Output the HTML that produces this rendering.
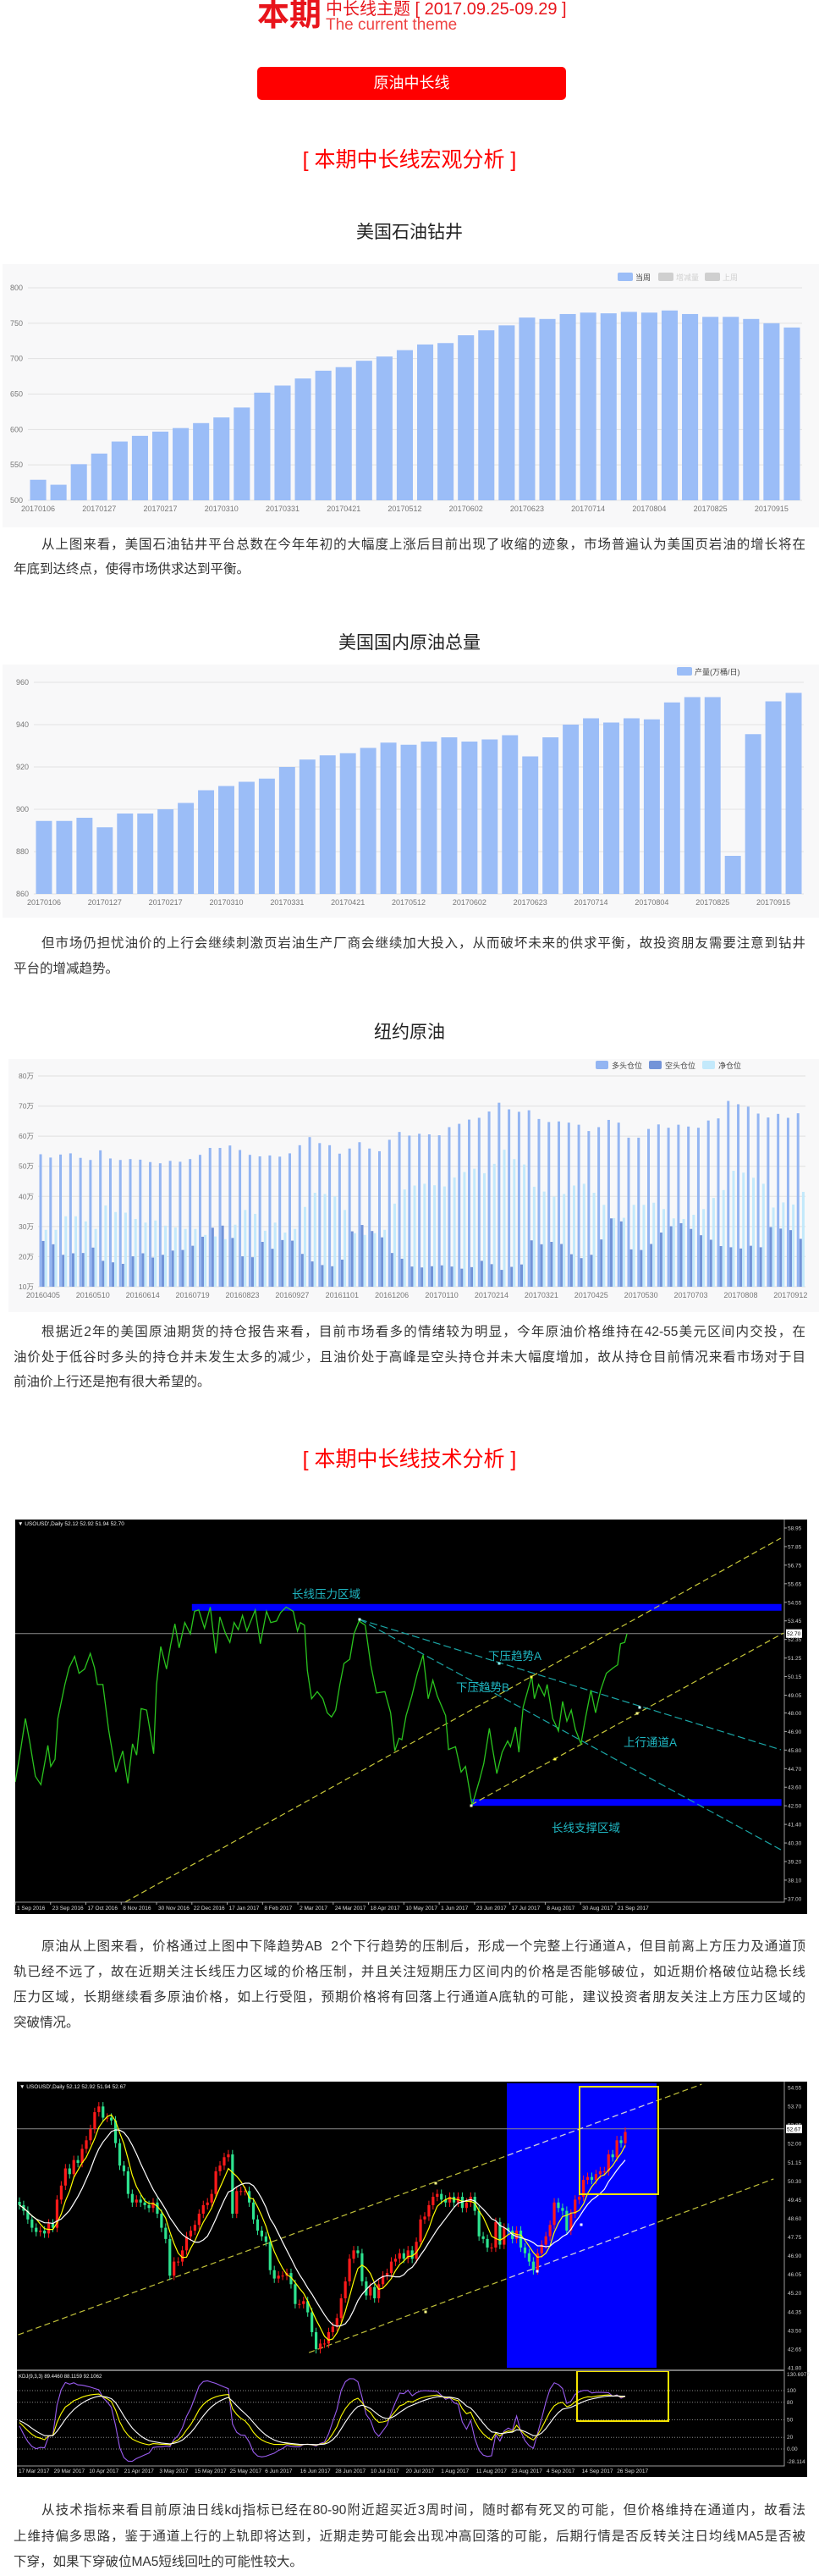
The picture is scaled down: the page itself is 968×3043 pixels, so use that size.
<!DOCTYPE html>
<html><head><meta charset="utf-8">
<style>
body{margin:0;width:968px;height:3034px;position:relative;background:#fff;font-family:"Liberation Sans","Noto Sans CJK SC",sans-serif;overflow:hidden}
#charts{position:absolute;left:0;top:0}
.h2{position:absolute;left:0;width:968px;text-align:center;color:#222;font-size:21px;line-height:24px;font-family:"Liberation Sans","Noto Sans CJK SC",sans-serif}
.sec{position:absolute;left:0;width:968px;text-align:center;color:#f00;font-size:25px;line-height:30px}
.p{position:absolute;left:16px;width:936px;font-size:15.5px;color:#333;font-family:"Liberation Sans","Noto Sans CJK SC",sans-serif}
.p div{white-space:nowrap;text-align:justify;text-align-last:justify}
.p div.first{padding-left:33px}
.p div.last{text-align-last:left}
</style></head>
<body>
<svg id="charts" width="968" height="3034" viewBox="0 0 968 3034"></svg>

<div style="position:absolute;left:304px;top:-2px;font-size:38px;line-height:40px;font-weight:bold;color:#e8141b">本期</div>
<div style="position:absolute;left:385px;top:1px;font-size:20px;line-height:20px;color:#e8141b;white-space:nowrap">中长线主题 [ 2017.09.25-09.29 ]</div>
<div style="position:absolute;left:385px;top:20px;font-size:19px;line-height:20px;color:#ee4444;white-space:nowrap">The current theme</div>
<div style="position:absolute;left:304px;top:79px;width:365px;height:39px;background:#ff0000;border-radius:5px;color:#fff;font-size:18px;line-height:39px;text-align:center">原油中长线</div>

<div class="sec" style="top:174px">[ 本期中长线宏观分析 ]</div>
<div class="h2" style="top:263px">美国石油钻井</div>

<div class="p" style="top:629px;line-height:29px">
<div class="first">从上图来看，美国石油钻井平台总数在今年年初的大幅度上涨后目前出现了收缩的迹象，市场普遍认为美国页岩油的增长将在</div>
<div class="last">年底到达终点，使得市场供求达到平衡。</div>
</div>

<div class="h2" style="top:748px">美国国内原油总量</div>

<div class="p" style="top:1100px;line-height:30px">
<div class="first">但市场仍担忧油价的上行会继续刺激页岩油生产厂商会继续加大投入，从而破坏未来的供求平衡，故投资朋友需要注意到钻井</div>
<div class="last">平台的增减趋势。</div>
</div>

<div class="h2" style="top:1208px">纽约原油</div>

<div class="p" style="top:1559px;line-height:29.5px">
<div class="first">根据近2年的美国原油期货的持仓报告来看，目前市场看多的情绪较为明显，今年原油价格维持在42-55美元区间内交投，在</div>
<div>油价处于低谷时多头的持仓并未发生太多的减少，且油价处于高峰是空头持仓并未大幅度增加，故从持仓目前情况来看市场对于目</div>
<div class="last">前油价上行还是抱有很大希望的。</div>
</div>

<div class="sec" style="top:1709px">[ 本期中长线技术分析 ]</div>

<div class="p" style="top:2285px;line-height:30px">
<div class="first">原油从上图来看，价格通过上图中下降趋势AB&nbsp;&nbsp;2个下行趋势的压制后，形成一个完整上行通道A，但目前离上方压力及通道顶</div>
<div>轨已经不远了，故在近期关注长线压力区域的价格压制，并且关注短期压力区间内的价格是否能够破位，如近期价格破位站稳长线</div>
<div>压力区域，长期继续看多原油价格，如上行受阻，预期价格将有回落上行通道A底轨的可能，建议投资者朋友关注上方压力区域的</div>
<div class="last">突破情况。</div>
</div>

<div class="p" style="top:2951px;line-height:30.5px">
<div class="first">从技术指标来看目前原油日线kdj指标已经在80-90附近超买近3周时间，随时都有死叉的可能，但价格维持在通道内，故看法</div>
<div>上维持偏多思路，鉴于通道上行的上轨即将达到，近期走势可能会出现冲高回落的可能，后期行情是否反转关注日均线MA5是否被</div>
<div class="last">下穿，如果下穿破位MA5短线回吐的可能性较大。</div>
</div>

<script>
// ===== Chart data =====
const rigTickLabels=['20170106','20170127','20170217','20170310','20170331','20170421','20170512','20170602','20170623','20170714','20170804','20170825','20170915'];
const rigValues=[529,522,551,566,583,591,597,602,609,617,631,652,662,672,683,688,697,703,712,720,722,733,740,747,758,756,763,765,764,766,765,768,763,759,759,756,750,744];
const rigTicks=[500,550,600,650,700,750,800];

const prodTickLabels=['20170106','20170127','20170217','20170310','20170331','20170421','20170512','20170602','20170623','20170714','20170804','20170825','20170915'];
const prodValues=[894.5,894.5,896,891.5,898,898,900,903,909,911,913,914.5,920,923.5,925.5,926.5,929,931.5,930.5,932,934,932,933,935,925,934,940,943,941,943,942.5,950.5,953,953,878,935.5,951,955];
const prodTicks=[860,880,900,920,940,960];

const posTickLabels=['20160405','20160510','20160614','20160719','20160823','20160927','20161101','20161206','20170110','20170214','20170321','20170425','20170530','20170703','20170808','20170912'];
const posTicks=[10,20,30,40,50,60,70,80];
const longValues=[54.0,52.9,53.9,54.3,52.8,52.1,55.3,52.6,52.1,52.4,52.2,51.4,51.0,51.8,51.5,52.4,53.8,56.1,56.1,56.9,55.4,53.8,53.3,53.6,53.2,54.3,57.0,59.7,57.7,57.0,54.2,55.9,58.0,55.9,55.0,58.8,61.4,60.2,60.8,60.6,60.3,63.0,64.1,65.5,66.1,68.2,71.1,68.9,68.1,68.6,65.7,64.7,64.9,64.5,63.8,61.7,63.0,65.4,64.5,59.5,59.5,62.4,63.9,62.8,63.8,63.2,62.8,65.2,65.9,71.7,70.6,69.8,67.5,66.2,67.4,66.1,67.6];
const shortValues=[25.2,24.1,20.6,21.1,21.2,23.0,18.6,18.1,17.6,20.1,21.1,19.7,20.6,22.0,22.2,23.6,26.6,29.6,30.3,26.2,20.1,19.8,24.9,22.6,25.5,25.3,20.9,18.4,17.2,16.8,19.0,28.4,30.5,28.5,26.4,21.2,19.3,16.7,16.4,16.8,17.1,16.7,16.0,16.5,18.6,17.5,15.6,16.6,17.4,25.4,24.1,24.9,24.2,20.8,19.5,20.6,25.7,32.7,31.7,22.4,22.2,24.2,28.0,30.1,31.1,29.2,27.1,25.6,23.5,23.1,22.7,23.6,23.1,29.8,29.3,28.8,25.9];
const netValues=[28.9,28.9,33.4,33.4,31.7,29.2,37.0,34.8,34.6,32.5,31.3,32.0,30.3,29.7,29.2,29.2,27.2,26.7,25.8,30.6,35.5,34.2,28.6,31.3,28.0,29.2,36.5,41.2,40.8,40.0,35.5,27.8,27.2,27.8,28.9,37.6,42.3,43.6,44.2,43.7,43.3,46.3,48.1,49.2,47.7,50.8,55.5,52.4,50.6,43.2,41.6,39.9,40.8,43.6,44.2,41.2,37.2,32.8,32.9,37.2,37.2,37.9,35.8,32.7,32.5,33.9,35.8,39.5,42.1,48.5,47.9,46.2,44.2,36.3,38.0,37.3,41.5];

// Black chart 1 (daily line, trading-day index + price)
const lineDays=[0,2,4.6,6.5,9.1,11.6,14.8,16.1,18,19.3,22.5,24.4,26.9,28.9,31.4,34,35.9,37.2,39.7,42.3,45.5,48.7,51,53.1,55,57,59.5,61.4,62.7,64,65.9,68.5,70.4,72.3,74.2,76.8,79.3,81.2,83.1,85.7,88.3,90.8,92.7,95.3,97.2,99.1,101,102.9,104.9,108.7,111,113.8,115.7,118.3,120.2,122.7,125.9,127.8,129.1,131,132.3,134.2,136.8,139.3,141.3,143.2,145.1,147,148.9,151.5,153.4,155.7,158.5,161,163.6,167.4,170,171.9,173.8,175.1,177,179.6,182.1,184.7,187,189.1,191.1,194.9,196.2,199.4,201.9,203.9,206.9,210.2,212.2,214.7,216,218.1,220.5,223,224.3,226.6,228.1,230,233.9,235.1,237,239.6,240.9,243.4,246,247.9,249.8,251.8,253.7,256.2,258.2,260.7,262.8,265.1,267.7,270.9,272.8,274.1,276,277];
const linePrices=[43.91,45.42,47.67,46.34,44.25,43.75,46.08,44.83,45.25,47.67,49.68,50.68,51.35,50.35,50.60,51.52,50.68,49.68,49.68,47.00,44.50,45.75,43.83,46.17,45.50,48.26,48.17,46.67,45.58,49.68,51.93,50.60,52.02,53.27,51.85,53.35,52.68,54.02,54.10,53.02,54.27,51.52,53.69,52.68,52.18,53.35,52.93,53.77,52.85,54.10,52.10,54.02,53.35,53.44,53.94,54.27,54.02,52.85,53.35,53.19,50.51,48.84,49.26,48.84,48.01,47.76,48.17,49.68,50.93,51.18,52.68,53.44,53.19,50.85,49.18,49.26,48.01,45.75,46.50,46.42,47.84,49.01,50.35,51.43,48.84,49.93,49.01,47.84,45.83,46.00,44.50,44.83,42.53,44.00,45.00,47.09,46.00,44.41,45.67,46.34,46.00,47.17,45.67,48.34,50.18,48.84,49.68,49.01,49.68,47.67,46.92,48.68,47.51,48.17,47.00,46.17,47.67,49.35,48.01,49.35,50.35,50.68,50.85,52.10,52.18,52.68];
const line1PriceTicks=[58.95,57.85,56.75,55.65,54.55,53.45,52.35,51.25,50.15,49.05,48.00,46.90,45.80,44.70,43.60,42.50,41.40,40.30,39.20,38.10,37.00];
const line1DateLabels=['1 Sep 2016','23 Sep 2016','17 Oct 2016','8 Nov 2016','30 Nov 2016','22 Dec 2016','17 Jan 2017','8 Feb 2017','2 Mar 2017','24 Mar 2017','18 Apr 2017','10 May 2017','1 Jun 2017','23 Jun 2017','17 Jul 2017','8 Aug 2017','30 Aug 2017','21 Sep 2017'];
const line1DateIdx=[0,16,32,48,64,80,96,112,128,144,160,176,192,208,224,240,256,272];
// trend lines: [day0, price0, day1, price1]
const channelUpper=[49.8,36.8,346.7,58.35];
const channelLower=[206.5,42.56,347.9,52.73];
const trendA=[155.9,53.54,346.7,45.82];
const trendB=[155.9,53.54,346.7,39.90];
const resistBand=[80,54.45,347,54.05];
const supportBand=[206.5,42.9,347,42.5];

// Black chart 2 (candles: closes)
const candleCloses=[49.20,48.94,48.55,48.17,47.98,48.04,47.91,48.36,48.17,49.45,50.09,50.87,50.61,51.25,51.12,51.76,52.15,52.66,53.43,53.69,53.18,53.18,53.05,52.02,51.00,50.74,49.71,49.32,49.45,49.32,49.20,49.07,49.32,48.81,48.17,47.66,45.99,46.63,46.63,47.14,47.78,48.04,48.30,48.81,49.20,49.32,49.71,50.74,51.00,51.38,51.51,48.81,49.84,49.84,49.84,49.32,48.55,48.04,47.78,47.53,46.24,45.86,45.99,45.99,46.11,45.60,44.70,44.70,44.83,44.32,43.42,42.65,42.90,42.90,43.42,
43.67,44.06,44.96,45.73,46.76,47.14,47.01,45.73,45.09,45.47,44.96,45.60,45.99,46.11,46.63,46.76,47.01,46.76,47.14,46.76,47.53,48.55,48.68,49.20,49.58,49.71,49.45,49.32,49.58,49.32,49.58,49.07,49.32,49.58,48.94,47.78,47.66,47.27,47.27,48.43,47.40,48.17,48.04,47.66,48.04,47.27,47.01,46.63,46.24,47.01,47.40,47.78,48.30,49.32,49.07,48.94,48.04,48.81,49.45,49.58,50.35,50.48,50.35,50.61,50.74,50.74,51.51,51.38,52.15,52.02,52.53];
const candlePriceTicks=[54.55,53.70,52.85,52.00,51.15,50.30,49.45,48.60,47.75,46.90,46.05,45.20,44.35,43.50,42.65,41.80];
const candleDateLabels=['17 Mar 2017','29 Mar 2017','10 Apr 2017','21 Apr 2017','3 May 2017','15 May 2017','25 May 2017','6 Jun 2017','16 Jun 2017','28 Jun 2017','10 Jul 2017','20 Jul 2017','1 Aug 2017','11 Aug 2017','23 Aug 2017','4 Sep 2017','14 Sep 2017','26 Sep 2017'];
const kdjTicks=[100,80,50,20,0];
const channel2Upper=[-0.3,43.30,163.3,54.70];
const channel2Lower=[69.3,42.49,180.5,50.39];

// ===== helpers =====
const NS='http://www.w3.org/2000/svg';
const svg=document.getElementById('charts');
function mk(tag,attrs,parent){const e=document.createElementNS(NS,tag);for(const k in attrs)e.setAttribute(k,attrs[k]);(parent||svg).appendChild(e);return e;}
function tx(str,attrs,parent){const e=mk('text',attrs,parent);e.textContent=str;return e;}
function grp(name){const g=mk('g',{});return g;}
const FONT='"Liberation Sans","Noto Sans CJK SC",sans-serif';

// ===== Bar chart 1: rigs =====
(function(){
  const g=grp('rig-count-chart');
  const bg=mk('rect',{x:3,y:312,width:965,height:311,fill:'#f8f8f9'},g);
  
  
  const x0=33,x1=948,top=340,bot=591,vmin=500,vmax=800;
  const y=v=>bot-(v-vmin)/(vmax-vmin)*(bot-top);
  rigTicks.forEach(t=>{
    const l=mk('line',{x1:x0,x2:x1,y1:y(t),y2:y(t),stroke:'#e2e2e2','stroke-width':1},g);
    
    
    const lb=tx(String(t),{x:27,y:y(t)+3,'text-anchor':'end','font-size':9,fill:'#777','font-family':FONT},g);
    
    
  });
  const bw=(x1-x0)/rigValues.length;
  rigValues.forEach((v,i)=>{
    const r=mk('rect',{x:x0+i*bw+2.5,y:y(v),width:bw-5,height:bot-y(v),fill:'#9bbdf7'},g);
    
    
  });
  rigTickLabels.forEach((s,k)=>{
    const lb=tx(s,{x:x0+(k*3+0.5)*bw,y:604,'text-anchor':'middle','font-size':9,fill:'#777','font-family':FONT},g);
    
    
  });
  const legs=[['当周','#9bbdf7','#444',730],['增减量','#cfcfcf','#cfcfcf',778],['上周','#cfcfcf','#cfcfcf',833]];
  legs.forEach(L=>{
    const b=mk('rect',{x:L[3],y:322,width:18,height:10,rx:2,fill:L[1]},g);
    
    
    const t=tx(L[0],{x:L[3]+21,y:331,'font-size':9,fill:L[2],'font-family':FONT},g);
    
    
  });
})();

// ===== Bar chart 2: production =====
(function(){
  const g=grp('production-chart');
  const bg=mk('rect',{x:3,y:785,width:965,height:299,fill:'#f8f8f9'},g);
  
  
  const x0=40,x1=950,top=806,bot=1056,vmin=860,vmax=960;
  const y=v=>bot-(v-vmin)/(vmax-vmin)*(bot-top);
  prodTicks.forEach(t=>{
    const l=mk('line',{x1:x0,x2:x1,y1:y(t),y2:y(t),stroke:'#e2e2e2','stroke-width':1},g);
    
    
    const lb=tx(String(t),{x:34,y:y(t)+3,'text-anchor':'end','font-size':9,fill:'#777','font-family':FONT},g);
    
    
  });
  const bw=(x1-x0)/prodValues.length;
  prodValues.forEach((v,i)=>{
    const r=mk('rect',{x:x0+i*bw+2.5,y:y(v),width:bw-5,height:bot-y(v),fill:'#9bbdf7'},g);
    
    
  });
  prodTickLabels.forEach((s,k)=>{
    const lb=tx(s,{x:x0+(k*3+0.5)*bw,y:1069,'text-anchor':'middle','font-size':9,fill:'#777','font-family':FONT},g);
    
    
  });
  const b=mk('rect',{x:800,y:788,width:18,height:10,rx:2,fill:'#9bbdf7'},g);
  
  
  const t=tx('产量(万桶/日)',{x:821,y:797,'font-size':9,fill:'#444','font-family':FONT},g);
  
  
})();

// ===== Bar chart 3: positions =====
(function(){
  const g=grp('positions-chart');
  const bg=mk('rect',{x:10,y:1251,width:958,height:299,fill:'#f8f8f9'},g);
  
  
  const x0=45,x1=952,top=1271,bot=1520,vmin=10,vmax=80;
  const y=v=>bot-(v-vmin)/(vmax-vmin)*(bot-top);
  posTicks.forEach(t=>{
    const l=mk('line',{x1:x0,x2:x1,y1:y(t),y2:y(t),stroke:'#e0e0e0','stroke-width':1},g);
    
    
    const lb=tx(t+'万',{x:40,y:y(t)+3,'text-anchor':'end','font-size':8.5,fill:'#777','font-family':FONT},g);
    
    
  });
  const bw=(x1-x0)/longValues.length;
  const series=[[longValues,'#93b5f2',1.5],[shortValues,'#7293d8',4.6],[netValues,'#c3e9fb',7.7]];
  series.forEach(S=>{
    S[0].forEach((v,i)=>{
      const r=mk('rect',{x:x0+i*bw+S[2],y:y(v),width:3,height:bot-y(v),fill:S[1]},g);
      
      
    });
  });
  posTickLabels.forEach((s,k)=>{
    const lb=tx(s,{x:x0+(k*5+0.5)*bw,y:1533,'text-anchor':'middle','font-size':9,fill:'#777','font-family':FONT},g);
    
    
  });
  const legs=[['多头仓位','#93b5f2',704],['空头仓位','#7293d8',767],['净仓位','#c3e9fb',830]];
  legs.forEach(L=>{
    const b=mk('rect',{x:L[2],y:1253,width:15,height:10,rx:2,fill:L[1]},g);
    
    
    const t=tx(L[0],{x:L[2]+19,y:1262,'font-size':9,fill:'#444','font-family':FONT},g);
    
    
  });
})();

// ===== Black chart 1: daily line =====
(function(){
  const g=grp('daily-line-chart');
  const L=18,T=1795,R=927,B=2247;
  const bg=mk('rect',{x:L,y:T,width:936,height:466,fill:'#000'},g);
  
  
  const px=d=>L+d*2.61;
  const py=p=>1805+(58.95-p)*19.95;
  const clip=mk('clipPath',{id:'c1'},g);
  mk('rect',{x:L,y:T,width:R-L,height:B-T},clip);
  const pl=mk('g',{'clip-path':'url(#c1)'},g);
  // price line
  const cur=mk('line',{x1:L,x2:R,y1:py(52.70),y2:py(52.70),stroke:'#8a8a8a','stroke-width':1},pl);
  
  
  const band=(b,name)=>{
    const r=mk('rect',{x:px(b[0]),y:py(b[1]),width:px(b[2])-px(b[0]),height:py(b[3])-py(b[1]),fill:'#0000ff'},pl);
    
    
  };
  band(resistBand,'resistance-zone');
  band(supportBand,'support-zone');
  const seg=(s,col,dash,name)=>{
    const l=mk('line',{x1:px(s[0]),y1:py(s[1]),x2:px(s[2]),y2:py(s[3]),stroke:col,'stroke-width':1.2,'stroke-dasharray':dash},pl);
    
    
  };
  seg(channelUpper,'#c9c93a','7,4','channel-upper-line');
  seg(channelLower,'#c9c93a','7,4','channel-lower-line');
  seg(trendA,'#1aa6a6','9,4','trend-a-line');
  seg(trendB,'#1aa6a6','9,4','trend-b-line');
  const n=Math.min(lineDays.length,linePrices.length);
  let d='';
  for(let i=0;i<n;i++)d+=(i?'L':'M')+px(lineDays[i]).toFixed(1)+','+py(linePrices[i]).toFixed(1);
  const pth=mk('path',{d:d,fill:'none',stroke:'#2ac41e','stroke-width':1.3},pl);
  
  
  const dots=[[590,1965,'#8ff'],[756,2017,'#cff'],[628,1981,'#ff4'],[753,2024,'#ff8'],[656,2078,'#ff4'],[557,2133,'#ffc'],[425,1913,'#cff']];
  dots.forEach(D=>{const c=mk('rect',{x:D[0]-1.5,y:D[1]-1.5,width:3,height:3,fill:D[2]},pl);});
  const labs=[['长线压力区域',345,1888],['下压趋势A',577,1961],['下压趋势B',539,1998],['上行通道A',737,2063],['长线支撑区域',652,2164]];
  labs.forEach(Lb=>{const t=tx(Lb[0],{x:Lb[1],y:Lb[2],'font-size':13.5,fill:'#1fb5c0','font-family':FONT},g);});
  // axes
  const ax=mk('path',{d:`M${R},${T}V${B}H${L}`,stroke:'#9a9a9a',fill:'none','stroke-width':1},g);
  
  
  line1PriceTicks.forEach(p=>{
    mk('line',{x1:R,x2:R+3,y1:py(p),y2:py(p),stroke:'#aaa'},g);
    const t=tx(p.toFixed(2),{x:R+4,y:py(p)+2.5,'font-size':6.5,fill:'#ccc','font-family':FONT},g);
    
    
  });
  const pb=mk('rect',{x:R+2,y:py(52.70)-5,width:19,height:10,fill:'#fff'},g);
  
  
  tx('52.70',{x:R+3,y:py(52.70)+2.5,'font-size':6.5,fill:'#000','font-family':FONT},g);
  line1DateLabels.forEach((s,k)=>{
    const x=px(line1DateIdx[k]);
    mk('line',{x1:x,x2:x,y1:B,y2:B+3,stroke:'#aaa'},g);
    const t=tx(s,{x:x+2,y:B+9,'font-size':6.5,fill:'#ddd','font-family':FONT},g);
    
    
  });
  const h=tx("▼ USOUSD',Daily  52.12 52.92 51.94 52.70",{x:21,y:1802,'font-size':6.5,fill:'#eee','font-family':FONT},g);
  
  
})();

// ===== Black chart 2: candles + KDJ =====
(function(){
  const g=grp('candlestick-chart');
  const L=20,T=2459,R=927,B=2799,KT=2801,KB=2913;
  const bg=mk('rect',{x:L,y:T,width:934,height:467,fill:'#000'},g);
  
  
  const n=candleCloses.length;
  const step=(739-23)/(n-1);
  const px=i=>23+i*step;
  const py=p=>2466+(54.55-p)*25.96;
  const ky=v=>2893-v*0.69;
  const clip=mk('clipPath',{id:'c2'},g);
  mk('rect',{x:L,y:T,width:R-L,height:B-T},clip);
  const clipk=mk('clipPath',{id:'c3'},g);
  mk('rect',{x:L,y:KT,width:R-L,height:KB-KT},clipk);
  const pl=mk('g',{'clip-path':'url(#c2)'},g);
  const blue=mk('rect',{x:599,y:2461,width:177,height:336,fill:'#0000ff'},pl);
  
  
  const cur=mk('line',{x1:L,x2:R,y1:py(52.67),y2:py(52.67),stroke:'#8a8a8a','stroke-width':1},pl);
  
  
  const blueClip=mk('clipPath',{id:'c4'},g);
  mk('rect',{x:599,y:2461,width:177,height:336},blueClip);
  [channel2Upper,channel2Lower].forEach((s,k)=>{
    const a={x1:px(s[0]),y1:py(s[1]),x2:px(s[2]),y2:py(s[3]),'stroke-width':1.2,'stroke-dasharray':'7,4'};
    const l=mk('line',Object.assign({stroke:'#c2c23a'},a),pl);
    
    
    const l2=mk('line',Object.assign({stroke:'#c8c8f0','clip-path':'url(#c4)'},a),pl);
    
    
  });
  // candles
  const O=[],H=[],Lo=[];
  for(let i=0;i<n;i++){
    const c=candleCloses[i],o=i?candleCloses[i-1]:c+0.15;
    O.push(o);H.push(Math.max(o,c)+0.2);Lo.push(Math.min(o,c)-0.2);
    const up=c>=o;
    const col=up?'#ff1a1a':'#2de38f';
    const w=mk('line',{x1:px(i),x2:px(i),y1:py(H[i]),y2:py(Lo[i]),stroke:col,'stroke-width':1},pl);
    
    
    const top=py(Math.max(o,c)),hgt=Math.max(1,Math.abs(py(o)-py(c)));
    const r=mk('rect',{x:px(i)-1.6,y:top,width:3.2,height:hgt,fill:col},pl);
    
    
  }
  const ma=(k)=>candleCloses.map((_,i)=>{const s=Math.max(0,i-k+1);let t=0;for(let j=s;j<=i;j++)t+=candleCloses[j];return t/(i-s+1);});
  [[ma(5),'#ffff00','ma5-line'],[ma(10),'#ffffff','ma10-line']].forEach(M=>{
    let d='';M[0].forEach((v,i)=>d+=(i?'L':'M')+px(i).toFixed(1)+','+py(v).toFixed(1));
    const p=mk('path',{d:d,fill:'none',stroke:M[1],'stroke-width':1.2},pl);
    
    
  });
  const dots=[[515,2579,'#ff8'],[503,2731,'#ff8'],[635,2683,'#fff'],[687,2628,'#fff']];
  dots.forEach(D=>{const c=mk('rect',{x:D[0]-1.5,y:D[1]-1.5,width:3,height:3,fill:D[2]},pl);});
  const yr=mk('rect',{x:685,y:2465,width:93,height:127,fill:'none',stroke:'#f5e400','stroke-width':2},g);
  
  
  // KDJ
  const kg=mk('g',{'clip-path':'url(#c3)'},g);
  kdjTicks.forEach(t=>{
    const l=mk('line',{x1:L,x2:R,y1:ky(t),y2:ky(t),stroke:'#888','stroke-width':1,'stroke-dasharray':'1,2'},kg);
    
    
  });
  let K=50,D=50;const Ks=[],Ds=[],Js=[];
  for(let i=0;i<n;i++){
    const s=Math.max(0,i-8);let hh=-1e9,ll=1e9;
    for(let j=s;j<=i;j++){hh=Math.max(hh,H[j]);ll=Math.min(ll,Lo[j]);}
    const rsv=hh>ll?(candleCloses[i]-ll)/(hh-ll)*100:50;
    K=2/3*K+rsv/3;D=2/3*D+K/3;Ks.push(K);Ds.push(D);Js.push(3*K-2*D);
  }
  [[Js,'#9a5cf0','kdj-j-line'],[Ks,'#ffff00','kdj-k-line'],[Ds,'#ffffff','kdj-d-line']].forEach(M=>{
    let d='';M[0].forEach((v,i)=>d+=(i?'L':'M')+px(i).toFixed(1)+','+ky(v).toFixed(1));
    const p=mk('path',{d:d,fill:'none',stroke:M[1],'stroke-width':1.1},kg);
    
    
  });
  const kr=mk('rect',{x:682,y:2801,width:108,height:59,fill:'none',stroke:'#f5e400','stroke-width':2},g);
  
  
  // axes & labels
  const ax=mk('path',{d:`M${R},${T}V${KB}H${L}`,stroke:'#9a9a9a',fill:'none','stroke-width':1},g);
  
  
  const sep=mk('rect',{x:L,y:B,width:R-L,height:2,fill:'#777'},g);
  
  
  candlePriceTicks.forEach(p=>{
    const t=tx(p.toFixed(2),{x:R+4,y:py(p)+2.5,'font-size':6.5,fill:'#ccc','font-family':FONT},g);
    
    
  });
  const pb=mk('rect',{x:R+2,y:py(52.67)-5,width:19,height:10,fill:'#fff'},g);
  
  
  tx('52.67',{x:R+3,y:py(52.67)+2.5,'font-size':6.5,fill:'#000','font-family':FONT},g);
  [['130.6977',2807],['100',ky(100)+2],['80',ky(80)+2],['50',ky(50)+2],['20',ky(20)+2],['0.00',ky(0)+2],['-28.114',2910]].forEach(Lb=>{
    const t=tx(Lb[0],{x:R+3,y:Lb[1],'font-size':6.5,fill:'#ccc','font-family':FONT},g);
    
    
  });
  candleDateLabels.forEach((s,k)=>{
    const x=20+k*41.6;
    const t=tx(s,{x:x+2,y:2921,'font-size':6.5,fill:'#ddd','font-family':FONT},g);
    
    
  });
  const h=tx("▼ USOUSD',Daily  52.12 52.92 51.94 52.67",{x:23,y:2467,'font-size':6.5,fill:'#eee','font-family':FONT},g);
  
  
  const k=tx('KDJ(9,3,3) 89.4460 88.1159 92.1062',{x:22,y:2809,'font-size':6,fill:'#eee','font-family':FONT},g);
  
  
})();
</script>
</body></html>
